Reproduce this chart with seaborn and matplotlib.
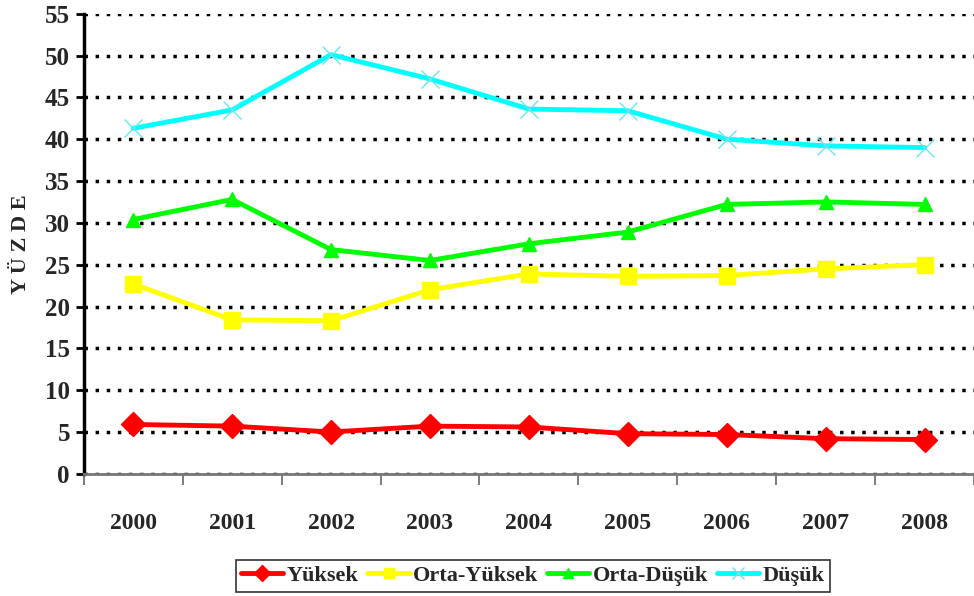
import pandas as pd
import seaborn as sns
import matplotlib.pyplot as plt
from matplotlib.ticker import FixedLocator

# Veriler ----------------------------------------------------------------------

yillar = ["2000", "2001", "2002", "2003", "2004", "2005", "2006", "2007", "2008"]
gruplar = ["Yüksek", "Orta-Yüksek", "Orta-Düşük", "Düşük"]

yuksek = [5.9, 5.7, 5.0, 5.7, 5.6, 4.8, 4.7, 4.2, 4.1]
orta_yuksek = [22.7, 18.4, 18.3, 22.0, 23.9, 23.6, 23.7, 24.5, 25.0]
orta_dusuk = [30.4, 32.8, 26.8, 25.5, 27.5, 28.9, 32.2, 32.5, 32.2]
dusuk = [41.3, 43.5, 50.1, 47.2, 43.6, 43.4, 40.0, 39.2, 39.0]

renkler = ["#FF0000", "#FFFF00", "#00FF00", "#00FFFF"]
isaretler = ["D", "s", "^", "x"]
boyutlar = [12, 11, 10, 13]

df = pd.DataFrame({
  "Yıl": yillar * 4,
  "Değer": yuksek + orta_yuksek + orta_dusuk + dusuk,
  "Grup": [g for g in gruplar for _ in yillar],
})

# Plot -------------------------------------------------------------------------

sns.set_style("white")
plt.rcParams["font.family"] = ["Liberation Serif", "DejaVu Serif"]
plt.rcParams["font.weight"] = "bold"

fig = plt.figure(figsize = (9.74, 5.96), dpi = 100)
ax = fig.add_axes([0.086, 0.205, 0.914, 0.772])

for grup, renk, mk, ms in zip(gruplar, renkler, isaretler, boyutlar):
  kw = dict(markeredgecolor = renk, markeredgewidth = 1.0)
  if mk == "x":
    kw = dict(markeredgecolor = "#66E8F0", markeredgewidth = 1.0)
  sns.lineplot(
    data = df[df["Grup"] == grup], x = "Yıl", y = "Değer", color = renk,
    marker = mk, markersize = ms, linewidth = 3.5, label = grup, ax = ax, **kw
  )

ax.set_xlim(-0.5, 8.5)
ax.set_ylim(0, 55)
ax.set_yticks(range(0, 56, 5))
ax.yaxis.grid(True, color = "black", linestyle = (0, (1, 2.2)), linewidth = 2.5)
ax.xaxis.grid(False)

ax.xaxis.set_major_locator(FixedLocator([i - 0.5 for i in range(10)]))
ax.xaxis.set_minor_locator(FixedLocator(range(9)))
ax.set_xticklabels([], minor = False)
ax.set_xticklabels(yillar, minor = True)
ax.tick_params(axis = "x", which = "major", length = 8, width = 1.2, color = "#666666", direction = "out")
ax.tick_params(axis = "x", which = "minor", length = 0, pad = 28, labelsize = 17)
ax.tick_params(axis = "y", length = 6, width = 2, color = "black", direction = "out", labelsize = 18, pad = 4)
ax.tick_params(bottom = True, left = True)

for s in ["top", "right"]:
  ax.spines[s].set_visible(False)
ax.spines["left"].set_color("black")
ax.spines["left"].set_linewidth(2.5)
ax.spines["bottom"].set_color("#777777")
ax.spines["bottom"].set_linewidth(2)

ax.set_xlabel("")
ax.set_ylabel("Y Ü Z D E", fontsize = 16, fontweight = "bold", labelpad = 10)

handles, labels = ax.get_legend_handles_labels()
ax.legend_.remove()
leg = fig.legend(
  handles, labels, loc = "center", bbox_to_anchor = (0.547, 0.034), ncol = 4,
  frameon = True, fancybox = False, edgecolor = "black", fontsize = 16,
  markerscale = 0.7, handlelength = 1.9, handletextpad = 0.15,
  columnspacing = 0.4, borderpad = 0.25
)
leg.get_frame().set_linewidth(1.2)

fig.savefig("out.png", dpi = 100)
